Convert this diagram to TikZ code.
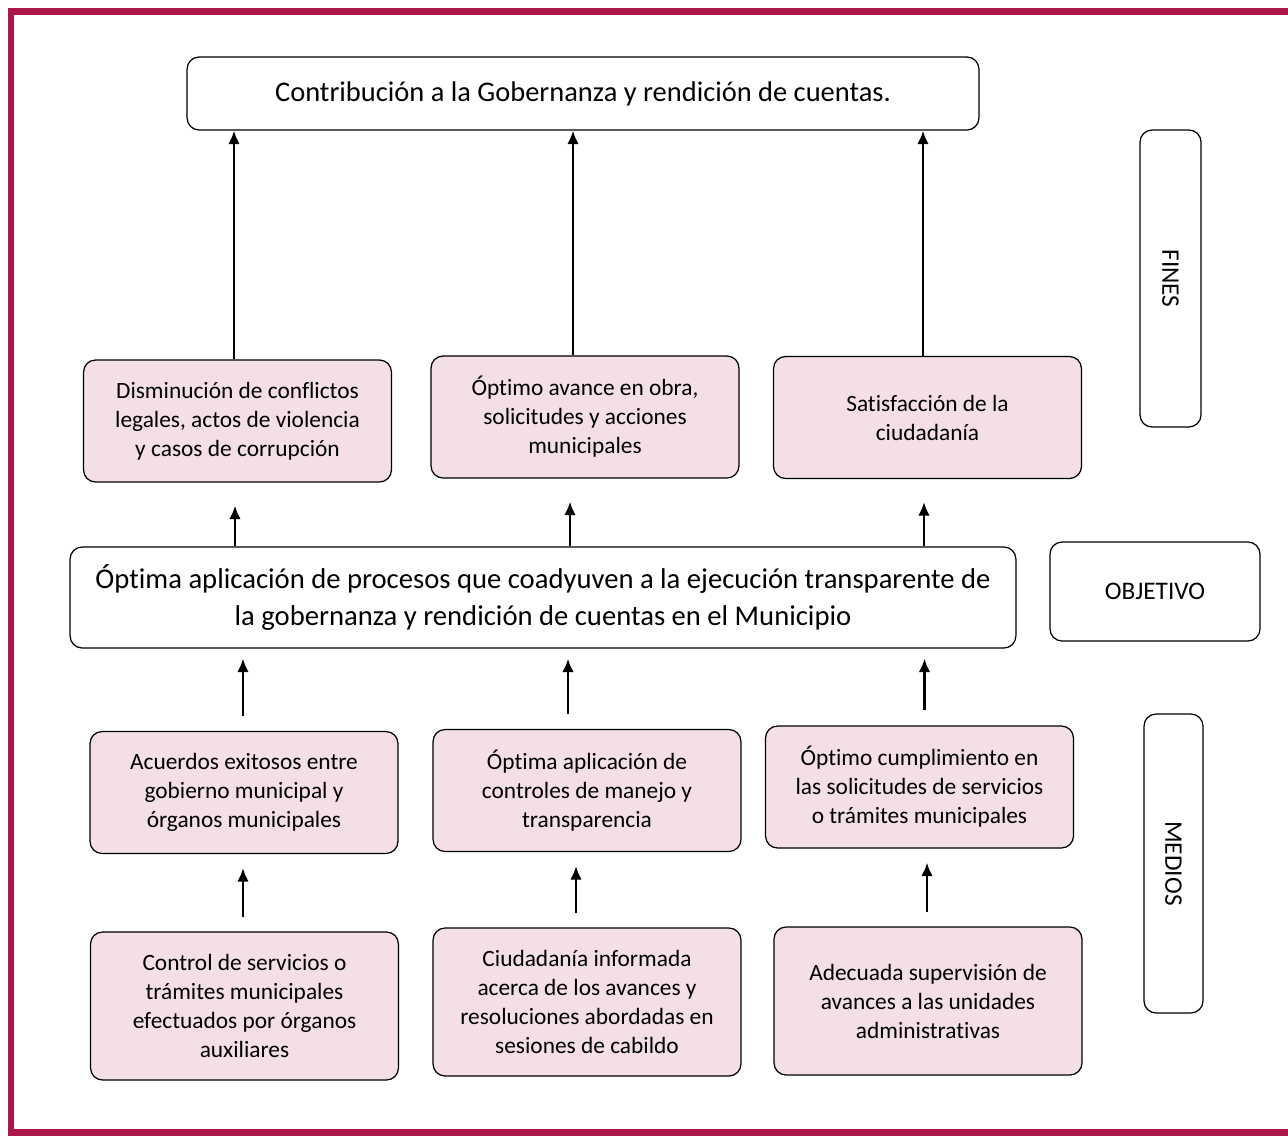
\documentclass[tikz,border=0pt]{standalone}
\usepackage{fontspec}
\setmainfont[Ligatures={NoCommon}, Contextuals={NoAlternate}]{Carlito}
\usepackage{tikz}
\usetikzlibrary{arrows.meta}

\definecolor{rosa}{RGB}{243,223,229}
\definecolor{marco}{RGB}{172,22,72}

\begin{document}
\begin{tikzpicture}[x=0.02cm, y=-0.02cm,
		caja/.style={draw, rounded corners=0.24cm, line width=0.7pt, align=center, inner sep=0pt},
		fin/.style={caja, fill=rosa, minimum width=6.16cm, minimum height=2.44cm, font=\fontsize{13.3}{16.5}\selectfont},
		medio/.style={fin, minimum height=2.96cm},
		etiqueta/.style={caja, font=\fontsize{14.4}{16}\selectfont},
		flecha/.style={line width=1.4pt, -{Latex[length=0.27cm, width=0.23cm]}}]
		\useasboundingbox (0,0) rectangle (1288,1136);
		% marco
		\draw[marco, line width=0.14cm] (1300,11) -- (11,11) -- (11,1132) -- (1300,1132);

		% fines
		\node[caja, minimum width=15.84cm, minimum height=1.46cm, font=\fontsize{16.2}{19}\selectfont] (top) at (583,93.5) {\raisebox{-0.06cm}{Contribución a la Gobernanza y rendición de cuentas.}};
		\node[fin] (f1) at (237.5,421) {Disminución de conflictos\\legales, actos de violencia\\y casos de corrupción};
		\node[fin] (f2) at (585,417) {Óptimo avance en obra,\\solicitudes y acciones\\municipales};
		\node[fin] (f3) at (927.5,417.5) {Satisfacción de la\\ciudadanía};

		% objetivo
		\node[caja, minimum width=18.92cm, minimum height=2.02cm, font=\fontsize{16.3}{20.5}\selectfont] (obj) at (543,597.5) {Óptima aplicación de procesos que coadyuven a la ejecución transparente de\\la gobernanza y rendición de cuentas en el Municipio};

		% medios
		\node[fin] (m1) at (244,792.5) {Acuerdos exitosos entre\\gobierno municipal y\\órganos municipales};
		\node[fin] (m2) at (587,790.5) {Óptima aplicación de\\controles de manejo y\\transparencia};
		\node[fin] (m3) at (919.5,787) {Óptimo cumplimiento en\\las solicitudes de servicios\\o trámites municipales};
		\node[medio] (a1) at (244.5,1006) {Control de servicios o\\trámites municipales\\efectuados por órganos\\auxiliares};
		\node[medio] (a2) at (587,1002) {Ciudadanía informada\\acerca de los avances y\\resoluciones abordadas en\\sesiones de cabildo};
		\node[medio] (a3) at (928,1001) {Adecuada supervisión de\\avances a las unidades\\administrativas};

		% etiquetas
		\node[etiqueta, rotate=-90, minimum width=5.94cm, minimum height=1.22cm] (lfin) at (1170.5,278.5) {FINES};
		\node[etiqueta, minimum width=4.2cm, minimum height=1.98cm] (lobj) at (1155,591.5) {OBJETIVO};
		\node[etiqueta, rotate=-90, minimum width=5.98cm, minimum height=1.18cm] (lmed) at (1173.5,863.5) {MEDIOS};

		% flechas
		\foreach \a/\s in {f1/-0.07, f2/-0.24, f3/-0.09}{
				\draw[flecha] ([xshift=\s cm]\a.north) -- ([xshift=\s cm]\a.north |- top.south);
		}
		\foreach \a/\s in {f1/-0.05, f2/-0.3, f3/-0.07}{
				\draw[flecha, shorten >=0.46cm] ([xshift=\s cm]\a.south |- obj.north) -- ([xshift=\s cm]\a.south);
		}
		\foreach \a/\s in {m1/-0.02, m2/-0.38, m3/0.1}{
				\draw[flecha, shorten <=0.3cm, shorten >=0.2cm] ([xshift=\s cm]\a.north) -- ([xshift=\s cm]\a.north |- obj.south);
		}
		\foreach \a/\b/\s in {a1/m1/-0.03, a2/m2/-0.22, a3/m3/-0.02}{
				\draw[flecha, shorten <=0.28cm, shorten >=0.28cm] ([xshift=\s cm]\a.north) -- ([xshift=\s cm]\a.north |- \b.south);
		}
\end{tikzpicture}
\end{document}
